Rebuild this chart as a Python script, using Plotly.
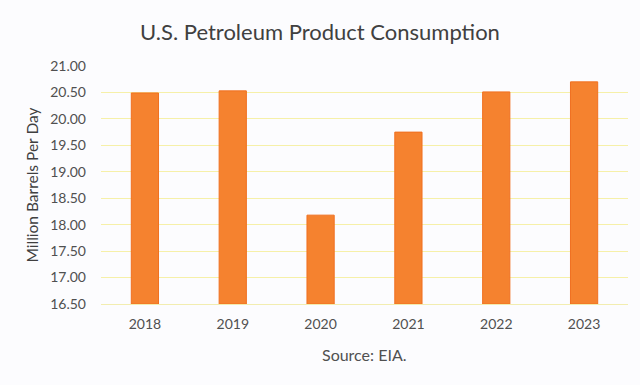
import plotly.graph_objects as go

years = ["2018", "2019", "2020", "2021", "2022", "2023"]
consumption = [20.49, 20.53, 18.18, 19.75, 20.51, 20.70]
y_ticks = [16.5, 17.0, 17.5, 18.0, 18.5, 19.0, 19.5, 20.0, 20.5, 21.0]
axis_base = 16.5

fig = go.Figure()
fig.add_trace(go.Bar(
    x=years, y=[v - axis_base for v in consumption], base=axis_base,
    width=0.31,
    marker=dict(color="#F5822F", line=dict(color="#F07020", width=1)),
))

fig.update_layout(
    width=640, height=385,
    margin=dict(l=101, r=12, t=66, b=81, autoexpand=False),
    paper_bgcolor="#FCFCFE", plot_bgcolor="#FCFCFE",
    font=dict(family="Lato, Open Sans, sans-serif", color="#505050", size=13),
    title=dict(text="U.S. Petroleum Product Consumption", x=0.5, xanchor="center",
               y=1 - 32 / 385, yanchor="middle",
               font=dict(size=22, color="#404040")),
    showlegend=False,
)
fig.update_yaxes(range=[16.5, 21.0], tickvals=y_ticks,
                 ticktext=[f"{v:.2f}" for v in y_ticks],
                 showgrid=True, gridcolor="#F6F0A8", gridwidth=1,
                 zeroline=False, showline=False, ticks="", ticklen=0,
                 automargin=False, ticklabelstandoff=14,
                 tickfont=dict(size=14, color="#505050"),
                 title=dict(text="Million Barrels Per Day", standoff=7,
                            font=dict(size=15.5, color="#404040")))
fig.update_xaxes(showgrid=False, showline=True, linecolor="#F2EDB0", linewidth=1,
                 ticks="", automargin=False, ticklabelstandoff=7,
                 tickfont=dict(size=14, color="#505050"))
fig.add_annotation(text="Source: EIA.", xref="paper", yref="paper",
                   x=0.5, y=-(354 - 304) / 238,
                   xanchor="center", yanchor="middle", showarrow=False,
                   font=dict(size=16, color="#505050"))
fig.write_html("out.html", config={"displayModeBar": False},
               post_script="document.body.style.margin='0';document.body.style.background='#FCFCFE';")
